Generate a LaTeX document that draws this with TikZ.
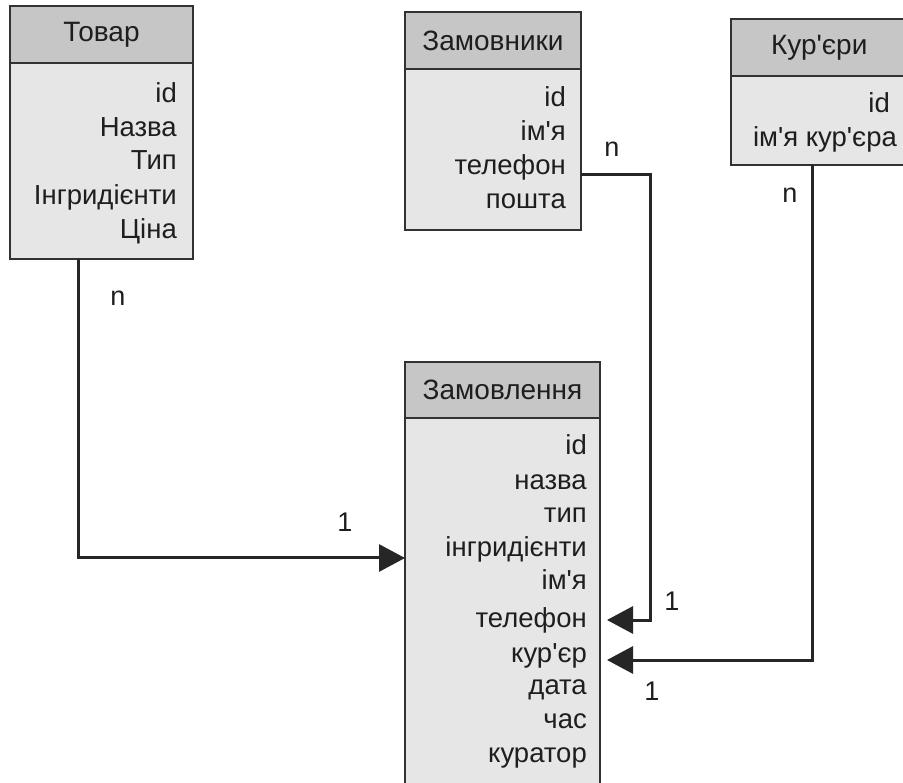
\documentclass[tikz,border=0pt]{standalone}
\usepackage{fontspec}
\setmainfont{Liberation Sans}[Ligatures=TeXOff]
\usetikzlibrary{arrows.meta}
\definecolor{hdr}{RGB}{198,198,198}
\definecolor{bdy}{RGB}{230,230,230}
\definecolor{edgec}{RGB}{50,50,50}
\definecolor{txt}{RGB}{30,30,30}
\tikzset{
  hdrbox/.style={draw=edgec, line width=1.8pt, fill=hdr, inner sep=0pt, outer sep=0pt, anchor=north west, text=txt, font=\fontsize{28}{32}\selectfont},
  bdybox/.style={draw=edgec, line width=1.8pt, fill=bdy, inner sep=0pt, outer sep=0pt, anchor=north west},
  row/.style={anchor=base east, inner sep=0pt, text=txt, font=\fontsize{27.5}{32}\selectfont},
  lbl/.style={anchor=base, inner sep=0pt, text=txt, font=\fontsize{27}{30}\selectfont},
  conn/.style={draw=black!85, line width=3pt, -{Triangle[length=26pt,width=27pt]}}
}
\begin{document}
\begin{tikzpicture}[x=1pt,y=-1pt]
\useasboundingbox (0,0) rectangle (903,783);
\clip (0,0) rectangle (903,783);
% Товар
\node[bdybox, minimum width=183pt, minimum height=196pt] (tb) at (10,63) {};
\node[hdrbox, minimum width=183pt, minimum height=57pt] (th) at (10,6) {Товар};
\node[row] (t1) at (177,103) {id};
\node[row] (t2) at (177,137) {Назва\ };
\node[row] (t3) at (177,170) {Тип};
\node[row] (t4) at (177,205) {Інгридієнти};
\node[row] (t5) at (177,239) {Ціна};
% Замовники
\node[bdybox, minimum width=176pt, minimum height=161pt] (kb) at (405,69) {};
\node[hdrbox, minimum width=176pt, minimum height=57pt] (kh) at (405,12) {Замовники};
\node[row] (k1) at (566,107) {id};
\node[row] (k2) at (566,141) {ім'я};
\node[row] (k3) at (566,175) {телефон};
\node[row] (k4) at (566,209) {пошта};
% Кур'єри
\node[bdybox, minimum width=176pt, minimum height=89pt] (cb) at (731,76) {};
\node[hdrbox, minimum width=176pt, minimum height=57pt, text width=150pt, align=left] (ch) at (731,19) {\hspace*{27pt}Кур'єри};
\node[row] (c1) at (890,113) {id};
\node[row] (c2) at (897,147) {ім'я кур'єра};
% Замовлення
\node[bdybox, minimum width=195pt, minimum height=380pt] (zb) at (405,418) {};
\node[hdrbox, minimum width=195pt, minimum height=56pt] (zh) at (405,362) {Замовлення};
\node[row] (z1) at (587,455) {id};
\node[row] (z2) at (587,490) {назва};
\node[row] (z3) at (587,522) {тип};
\node[row] (z4) at (587,557) {інгридієнти};
\node[row] (z5) at (587,590) {ім'я};
\node[row] (z6) at (587,627) {телефон};
\node[row] (z7) at (587,662) {кур'єр};
\node[row] (z8) at (587,694) {дата};
\node[row] (z9) at (587,728) {час};
\node[row] (z10) at (587,762) {куратор};
% connectors
\draw[conn] ([xshift=68pt]tb.south west) |- ([yshift=-140pt]zb.north west);
\draw[conn] ([yshift=-106pt]kb.north east) -- ++(69,0) |- ([xshift=7pt,yshift=-202pt]zb.north east);
\draw[conn] ([xshift=81pt]cb.south west) |- ([xshift=7pt,yshift=-242pt]zb.north east);
% labels
\node[lbl] (l1) at (118,306) {n};
\node[lbl] (l2) at (345,532) {1};
\node[lbl] (l3) at (612,157) {n};
\node[lbl] (l4) at (672,610) {1};
\node[lbl] (l5) at (790,203) {n};
\node[lbl] (l6) at (652,700) {1};
\end{tikzpicture}
\end{document}
